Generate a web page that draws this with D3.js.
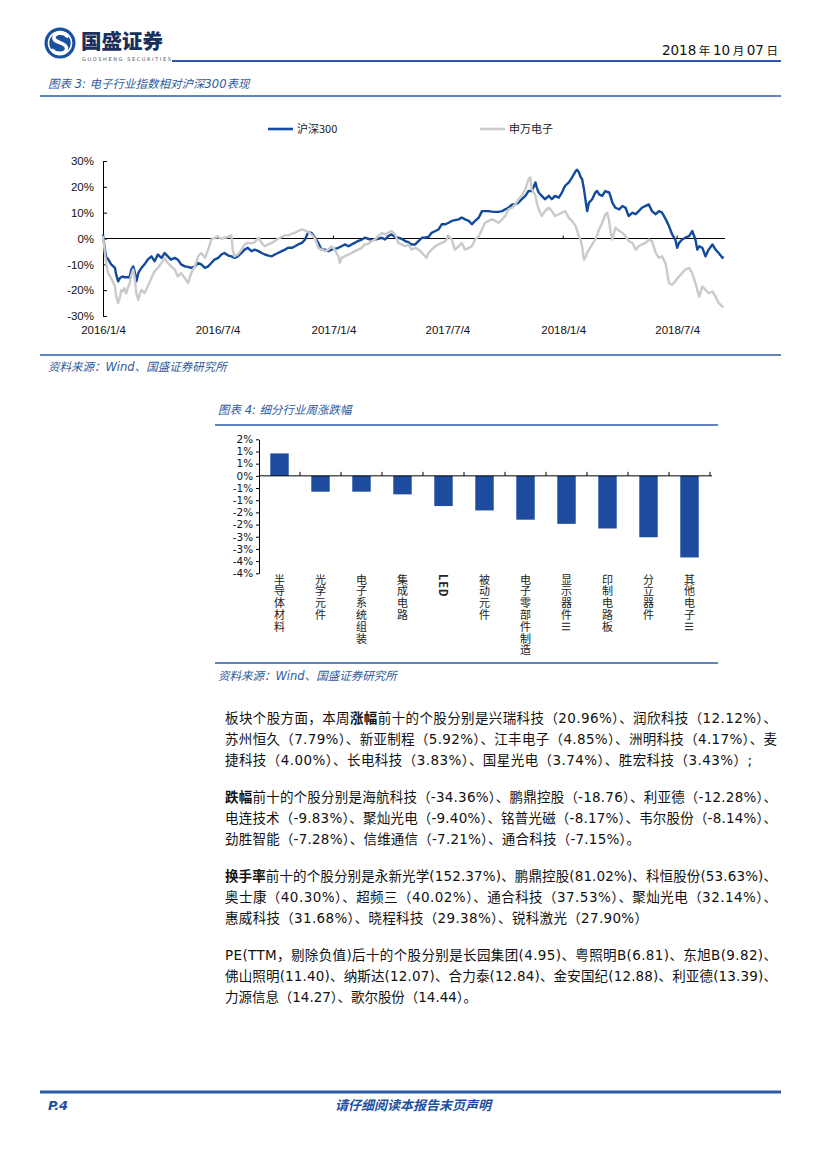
<!DOCTYPE html>
<html><head><meta charset="utf-8">
<script src="https://cdn.jsdelivr.net/npm/d3@7"></script>
<style>body{margin:0;background:#fff} svg{display:block}</style>
</head><body><svg id="page" width="827" height="1170"></svg>
<script>
// ---------------- DATA: chart 1 (图表3) ----------------
const dates = ["2016-01-04","2016-01-07","2016-01-09","2016-01-12","2016-01-17","2016-01-23","2016-01-25","2016-01-28","2016-01-31","2016-02-02","2016-02-05","2016-02-07","2016-02-10","2016-02-13","2016-02-15","2016-02-18","2016-02-21","2016-02-23","2016-02-26","2016-02-29","2016-03-02","2016-03-05","2016-03-10","2016-03-15","2016-03-21","2016-03-26","2016-03-31","2016-04-06","2016-04-11","2016-04-16","2016-04-21","2016-04-27","2016-05-02","2016-05-07","2016-05-13","2016-05-18","2016-05-23","2016-05-29","2016-06-03","2016-06-08","2016-06-14","2016-06-19","2016-06-24","2016-06-29","2016-07-05","2016-07-10","2016-07-15","2016-07-21","2016-07-26","2016-07-28","2016-07-31","2016-08-05","2016-08-11","2016-08-16","2016-08-21","2016-08-27","2016-09-01","2016-09-07","2016-09-12","2016-09-17","2016-09-23","2016-09-28","2016-10-03","2016-10-08","2016-10-14","2016-10-19","2016-10-24","2016-10-30","2016-11-04","2016-11-09","2016-11-15","2016-11-20","2016-11-25","2016-11-30","2016-12-06","2016-12-11","2016-12-16","2016-12-22","2016-12-27","2017-01-01","2017-01-06","2017-01-12","2017-01-14","2017-01-17","2017-01-22","2017-01-28","2017-02-02","2017-02-07","2017-02-12","2017-02-18","2017-02-23","2017-02-28","2017-03-06","2017-03-11","2017-03-16","2017-03-22","2017-03-27","2017-04-01","2017-04-06","2017-04-12","2017-04-17","2017-04-22","2017-04-28","2017-05-03","2017-05-08","2017-05-14","2017-05-19","2017-05-25","2017-05-30","2017-06-01","2017-06-04","2017-06-09","2017-06-15","2017-06-20","2017-06-25","2017-07-01","2017-07-06","2017-07-11","2017-07-16","2017-07-22","2017-07-27","2017-08-01","2017-08-07","2017-08-12","2017-08-17","2017-08-23","2017-08-28","2017-09-02","2017-09-07","2017-09-13","2017-09-18","2017-09-23","2017-09-29","2017-10-04","2017-10-09","2017-10-15","2017-10-20","2017-10-25","2017-10-30","2017-11-05","2017-11-10","2017-11-13","2017-11-15","2017-11-21","2017-11-23","2017-11-26","2017-12-01","2017-12-06","2017-12-12","2017-12-17","2017-12-22","2017-12-28","2018-01-02","2018-01-07","2018-01-13","2018-01-18","2018-01-24","2018-01-26","2018-01-29","2018-02-01","2018-02-03","2018-02-06","2018-02-09","2018-02-11","2018-02-14","2018-02-19","2018-02-24","2018-02-27","2018-03-02","2018-03-07","2018-03-12","2018-03-15","2018-03-18","2018-03-20","2018-03-23","2018-03-28","2018-04-03","2018-04-08","2018-04-13","2018-04-18","2018-04-24","2018-04-29","2018-05-04","2018-05-09","2018-05-15","2018-05-20","2018-05-25","2018-05-31","2018-06-05","2018-06-10","2018-06-16","2018-06-21","2018-06-26","2018-07-01","2018-07-04","2018-07-07","2018-07-12","2018-07-17","2018-07-23","2018-07-28","2018-08-02","2018-08-05","2018-08-08","2018-08-13","2018-08-18","2018-08-23","2018-08-29","2018-09-03","2018-09-08","2018-09-14","2018-09-15"];
const hs300 = [1.5,-4.3,-7,-8,-10,-11.4,-14,-16.6,-15.3,-15,-14.7,-15,-15,-15,-15,-12,-10.8,-12.5,-16.6,-13.4,-12.5,-11.4,-10,-8.2,-6.9,-8.8,-6.2,-7.5,-5.6,-6.9,-8.2,-7.5,-8.2,-10,-10.8,-11,-11.4,-10.8,-9.5,-10,-11.4,-10.8,-9.5,-8.2,-7.5,-6.2,-5.6,-6.6,-6.9,-7.2,-7.5,-6.9,-5.6,-4.3,-3.6,-4.9,-4.3,-4.9,-5.6,-6.2,-6.6,-6.9,-6.2,-5.6,-4.9,-4.3,-3.6,-3.6,-3.0,-2.3,-1.7,-0.4,2.5,2.2,0.3,-1.7,-4.3,-4.3,-4.9,-4.3,-4.0,-3.6,-3.3,-3.0,-2.3,-3.0,-2.3,-1.7,-1.0,-0.4,0.3,-0.1,-0.6,-0.4,-0.1,0.3,-0.4,0.9,1.6,0.6,0.3,-0.1,-1.0,-1.4,-2.3,-2.3,-1.0,0.3,0.3,0.5,0.6,2.2,2.9,3.5,5.5,5.5,6.1,6.8,7.1,7.4,8.1,7.4,6.8,5.5,6.8,8.1,10.6,10.6,10.6,10.4,10.3,10.3,10.6,11.3,11.9,13.2,13.2,13.9,15.2,16.5,18.4,18.4,18.4,21.7,19.7,17.8,16.5,15.2,16.5,15.2,16.5,15.8,17.8,20.4,21.7,23.6,26.2,26.6,25.6,23.6,23.0,19.1,13.9,10.6,13.9,15.2,17.8,18.4,17.1,16.5,18.4,18.0,17.8,16.5,13.9,11.9,11.3,12.6,11.9,8.7,10.0,9.4,10.6,11.9,12.6,13.2,10.6,9.4,10.6,10.0,7.4,4.8,1.6,-0.4,-3.6,-1.7,-0.4,0.3,0.9,2.9,-0.4,-4.3,-3.0,-3.6,-6.9,-4.3,-2.3,-4.3,-5.6,-7.5,-6.9];
const swElec = [1.0,-5.6,-9.5,-13.4,-15.3,-18.6,-22.5,-25,-22.5,-19.9,-20.5,-19.2,-21.2,-18.6,-17.9,-14,-12,-14.7,-21.2,-23.8,-21.8,-19.9,-21.2,-18.6,-15.3,-12.7,-11.4,-9.5,-7.5,-9.5,-10.8,-12,-14.7,-13.4,-15.3,-17.3,-13.4,-10.8,-6.9,-5.6,-7.5,-4.3,-0.4,0.3,0.6,-0.1,0.3,0.6,1.2,-4.3,-6.9,-6.2,-4.3,-2.3,-1.7,-1.9,-1.4,0.3,-1.7,-3.0,-2.3,-1.7,-1.0,-0.1,0.6,1.2,1.2,1.9,2.2,2.9,3.5,3.1,2.5,1.6,-0.1,-3.6,-4.3,-4.9,-4.3,-3.0,-4.3,-6.9,-9.5,-7.5,-6.9,-6.2,-5.6,-4.9,-4.3,-3.6,-2.3,-2.1,-1.0,-0.4,0.9,2.2,1.6,2.2,2.9,1.6,-1.7,-2.3,-3.0,-2.3,-4.3,-3.6,-4.3,-5.6,-6.9,-7.5,-5.6,-4.3,-3.0,-2.3,-1.7,-1.0,0.9,-0.4,-4.3,-3.0,-1.7,-4.3,-3.6,-3.0,-0.4,0.9,3.5,6.1,6.8,7.4,6.8,6.1,7.4,8.7,11.3,11.9,13.2,15.2,16.5,19.1,23.0,23.6,19.1,16.5,14,11.3,8.7,10.6,11.9,10.6,8.7,9.4,10.0,10.6,8.0,6.8,4.8,3.0,0.9,-1.0,-3.0,-8.2,-6.9,-5.5,-4.3,-2.3,-0.4,1.5,3.5,6.1,9.4,10.0,6.8,3.0,-0.4,4.2,2.9,2.2,0.9,-1.0,-1.7,-4.3,-3.0,-2.3,-1.7,-0.4,-1.0,-5.6,-7.5,-6.9,-10,-17.3,-17.9,-16.6,-15.5,-14.7,-13.4,-12.0,-11.4,-13.4,-17.3,-20,-22.5,-18.6,-19.9,-21.2,-20.5,-22.5,-25,-26.4,-26.8];
const seriesNames = ["沪深300","申万电子"];
const xTickDates = ["2016-01-04","2016-07-04","2017-01-04","2017-07-04","2018-01-04","2018-07-04"];
const xTickLabels = ["2016/1/4","2016/7/4","2017/1/4","2017/7/4","2018/1/4","2018/7/4"];
const yTicks1 = [30,20,10,0,-10,-20,-30];

// ---------------- DATA: chart 2 (图表4) ----------------
const cats2 = ["半导体材料","光学元件","电子系统组装","集成电路","LED","被动元件","电子零部件制造","显示器件Ⅲ","印制电路板","分立器件","其他电子Ⅲ"];
const chg2 = [0.92,-0.65,-0.65,-0.76,-1.24,-1.42,-1.80,-1.97,-2.16,-2.52,-3.35];
const yTicks2 = [1.5,1,0.5,0,-0.5,-1,-1.5,-2,-2.5,-3,-3.5,-4];
const yLabels2 = ["2%","1%","1%","0%","-1%","-1%","-2%","-2%","-3%","-3%","-4%","-4%"];

// ---------------- TEXT ----------------
const paraLines = [
 {y:718,w:552,segs:[["板块个股方面，本周",0],["涨幅",1],["前十的个股分别是兴瑞科技（20.96%）、润欣科技（12.12%）、",0]]},
 {y:739,w:552,segs:[["苏州恒久（7.79%）、新亚制程（5.92%）、江丰电子（4.85%）、洲明科技（4.17%）、麦",0]]},
 {y:760,w:527,segs:[["捷科技（4.00%）、长电科技（3.83%）、国星光电（3.74%）、胜宏科技（3.43%）;",0]]},
 {y:797,w:552,segs:[["跌幅",1],["前十的个股分别是海航科技（-34.36%）、鹏鼎控股（-18.76）、利亚德（-12.28%）、",0]]},
 {y:818,w:552,segs:[["电连技术（-9.83%）、聚灿光电（-9.40%）、铭普光磁（-8.17%）、韦尔股份（-8.14%）、",0]]},
 {y:839,w:415,segs:[["劲胜智能（-7.28%）、信维通信（-7.21%）、通合科技（-7.15%）。",0]]},
 {y:876,w:552,segs:[["换手率",1],["前十的个股分别是永新光学(152.37%)、鹏鼎控股(81.02%)、科恒股份(53.63%)、",0]]},
 {y:897,w:552,segs:[["奥士康（40.30%）、超频三（40.02%）、通合科技（37.53%）、聚灿光电（32.14%）、",0]]},
 {y:918,w:423,segs:[["惠威科技（31.68%）、晓程科技（29.38%）、锐科激光（27.90%）",0]]},
 {y:955,w:552,segs:[["PE(TTM，剔除负值)后十的个股分别是长园集团(4.95)、粤照明B(6.81)、东旭B(9.82)、",0]]},
 {y:976,w:552,segs:[["佛山照明(11.40)、纳斯达(12.07)、合力泰(12.84)、金安国纪(12.88)、利亚德(13.39)、",0]]},
 {y:997,w:252,segs:[["力源信息（14.27）、歌尔股份（14.44）。",0]]}
];

// ---------------- DRAW ----------------
const svg = d3.select("#page");
const BLUE = "#1E4F9E", DBLUE = "#2B5BA8";
const CJK = "'Noto Sans CJK SC', sans-serif";
const MIX = "'DejaVu Sans','Noto Sans CJK SC', sans-serif";
svg.append("rect").attr("width",827).attr("height",1170).attr("fill","#fff");

// header logo
const logo = svg.append("g");
logo.append("circle").attr("cx",60).attr("cy",43).attr("r",15.5).attr("fill","#1B4F9F");
logo.append("circle").attr("cx",60).attr("cy",43).attr("r",11.5).attr("fill","none").attr("stroke","#fff").attr("stroke-width",1.6);
logo.append("path").attr("d","M67,36 C63,31 53,33 54,38.5 C55,43 66,42.5 66.5,48 C67,54 57,55 52.5,50.5")
  .attr("fill","none").attr("stroke","#fff").attr("stroke-width",3.6).attr("stroke-linecap","round");
svg.append("text").attr("x",81).attr("y",48.5).attr("font-family",CJK).attr("font-weight",900)
  .attr("font-size",20.5).attr("fill","#1a2f5c").text("国盛证券");
svg.append("text").attr("x",82).attr("y",60.5).attr("font-family","'DejaVu Sans'").attr("font-size",5)
  .attr("letter-spacing",1.6).attr("fill","#555").text("GUOSHENG SECURITIES");
svg.append("line").attr("x1",172).attr("x2",781).attr("y1",61).attr("y2",61).attr("stroke",DBLUE).attr("stroke-width",2);
const dt = svg.append("text").attr("x",778).attr("y",55).attr("text-anchor","end").attr("fill","#111");
[["2018",0],[" 年 ",1],["10",0],[" 月 ",1],["07",0],[" 日",1]].forEach(([t,c])=>{
  dt.append("tspan").attr("font-family",c?CJK:"'DejaVu Sans'").attr("font-size",c?11.5:13.5).text(t);
});

function caption(x,y,txt){
  svg.append("text").attr("x",x).attr("y",y).attr("font-family",MIX).attr("font-style","italic")
    .attr("font-size",11.5).attr("fill","#2E5A9E").text(txt);
}
function hline(x1,x2,y,w){
  svg.append("line").attr("x1",x1).attr("x2",x2).attr("y1",y).attr("y2",y).attr("stroke",DBLUE).attr("stroke-width",w);
}
caption(48,88,"图表 3:  电子行业指数相对沪深300表现");
hline(40,781,96,1.6);

// ---- chart 1 ----
const parse = d3.timeParse("%Y-%m-%d");
const x1 = d3.scaleTime().domain([parse("2016-01-04"), parse("2018-09-18")]).range([103,725]);
const y1 = d3.scaleLinear().domain([-30,30]).range([316,161]);
const c1 = svg.append("g");
const yAx = c1.append("g").attr("transform","translate(103,0)")
  .call(d3.axisLeft(y1).tickValues(yTicks1).tickSizeInner(-4).tickSizeOuter(0).tickPadding(9).tickFormat(d=>d+"%"));
yAx.select(".domain").attr("stroke","#000");
yAx.selectAll(".tick line").attr("stroke","#000");
yAx.selectAll("text").attr("font-family","'Liberation Sans'").attr("font-size",11.5).attr("fill","#111");
const xAx = c1.append("g").attr("transform","translate(0,318)")
  .call(d3.axisBottom(x1).tickValues(xTickDates.map(parse)).tickSize(0).tickPadding(8)
    .tickFormat((d,i)=>xTickLabels[i]));
xAx.select(".domain").remove();
xAx.selectAll("text").attr("font-family","'Liberation Sans'").attr("font-size",11.5).attr("fill","#111");
c1.append("line").attr("x1",103).attr("x2",725).attr("y1",y1(0)).attr("y2",y1(0)).attr("stroke","#000").attr("stroke-width",1);
c1.selectAll("line.xt").data(xTickDates.slice(1)).enter().append("line").attr("class","xt")
  .attr("x1",d=>x1(parse(d))).attr("x2",d=>x1(parse(d))).attr("y1",y1(0)-3).attr("y2",y1(0)).attr("stroke","#000");
const pts = dates.map((d,i)=>({d:parse(d), a:hs300[i], b:swElec[i]}));
const lineA = d3.line().x(p=>x1(p.d)).y(p=>y1(p.a));
const lineB = d3.line().x(p=>x1(p.d)).y(p=>y1(p.b));
c1.append("path").datum(pts).attr("d",lineA).attr("fill","none").attr("stroke","#124A9E").attr("stroke-width",2.4).attr("stroke-linejoin","round");
c1.append("path").datum(pts).attr("d",lineB).attr("fill","none").attr("stroke","#CACACA").attr("stroke-width",2.4).attr("stroke-linejoin","round");
const leg = [{n:seriesNames[0],c:"#124A9E",x:268},{n:seriesNames[1],c:"#CACACA",x:480}];
leg.forEach(l=>{
  c1.append("line").attr("x1",l.x).attr("x2",l.x+25).attr("y1",129).attr("y2",129).attr("stroke",l.c).attr("stroke-width",2.6);
  c1.append("text").attr("x",l.x+29).attr("y",133).attr("font-family",CJK).attr("font-size",11).attr("fill","#222").text(l.n);
});
hline(40,781,355,1.6);
caption(48,371,"资料来源：Wind、国盛证券研究所");

// ---- chart 2 ----
caption(218,414,"图表 4:  细分行业周涨跌幅");
hline(215,718,425,1.6);
const x2 = d3.scaleBand().domain(cats2).range([259,710]).paddingInner(0.55).paddingOuter(0.275);
const y2 = d3.scaleLinear().domain([-4,1.5]).range([573.3,439.3]);
const c2 = svg.append("g");
c2.selectAll("rect.bar").data(cats2).enter().append("rect").attr("class","bar")
  .attr("x",d=>x2(d)).attr("width",x2.bandwidth())
  .attr("y",(d,i)=>y2(Math.max(0,chg2[i]))).attr("height",(d,i)=>Math.abs(y2(chg2[i])-y2(0)))
  .attr("fill","#1D4C9E");
const yAx2 = c2.append("g").attr("transform","translate(259,0)")
  .call(d3.axisLeft(y2).tickValues(yTicks2).tickSizeInner(3).tickSizeOuter(0).tickPadding(3).tickFormat((d,i)=>yLabels2[i]));
yAx2.select(".domain").attr("stroke","#000");
yAx2.selectAll("text").attr("font-family","'DejaVu Sans'").attr("font-size",10.4).attr("fill","#111");
c2.append("line").attr("x1",259).attr("x2",712).attr("y1",y2(0)).attr("y2",y2(0)).attr("stroke","#000");
const gap = (x2.step()-x2.bandwidth())/2;
c2.selectAll("line.ct").data(cats2).enter().append("line").attr("class","ct")
  .attr("x1",d=>x2(d)+x2.bandwidth()+gap).attr("x2",d=>x2(d)+x2.bandwidth()+gap)
  .attr("y1",y2(0)-4).attr("y2",y2(0)).attr("stroke","#000");
// vertical category labels (one text per category, vertical writing mode)
c2.selectAll("text.cat").data(cats2).enter().append("text").attr("class","cat")
  .attr("x",d=>x2(d)+x2.bandwidth()/2).attr("y",574)
  .style("writing-mode","vertical-rl").attr("letter-spacing",0.8)
  .attr("font-family",CJK).attr("font-size",11).attr("fill","#222")
  .each(function(d){
    const el = d3.select(this);
    d.match(/Ⅲ|[^Ⅲ]+/g).forEach(t=>{
      const ts = el.append("tspan").text(t);
      if (t==="Ⅲ") ts.style("text-orientation","sideways");
      if (t==="LED") ts.attr("font-weight",700);
    });
  });
hline(215,718,663,1.6);
caption(218,680,"资料来源：Wind、国盛证券研究所");

// ---- paragraphs ----
paraLines.forEach(l=>{
  const t = svg.append("text").attr("x",225).attr("y",l.y+5).attr("font-family",MIX)
    .attr("font-size",13.5).attr("fill","#111")
    .attr("textLength",l.w).attr("lengthAdjust","spacing");
  l.segs.forEach(([s,b])=>{ t.append("tspan").attr("font-weight",b?700:400).text(s); });
});

// ---- footer ----
hline(40,781,1092,3);
svg.append("text").attr("x",48).attr("y",1110).attr("font-family","'DejaVu Sans'").attr("font-weight",700)
  .attr("font-style","italic").attr("font-size",13).attr("fill",BLUE).text("P.4");
svg.append("text").attr("x",413).attr("y",1110).attr("text-anchor","middle").attr("font-family",CJK)
  .attr("font-weight",700).attr("font-style","italic").attr("font-size",13).attr("fill",BLUE).text("请仔细阅读本报告末页声明");
</script></body></html>
